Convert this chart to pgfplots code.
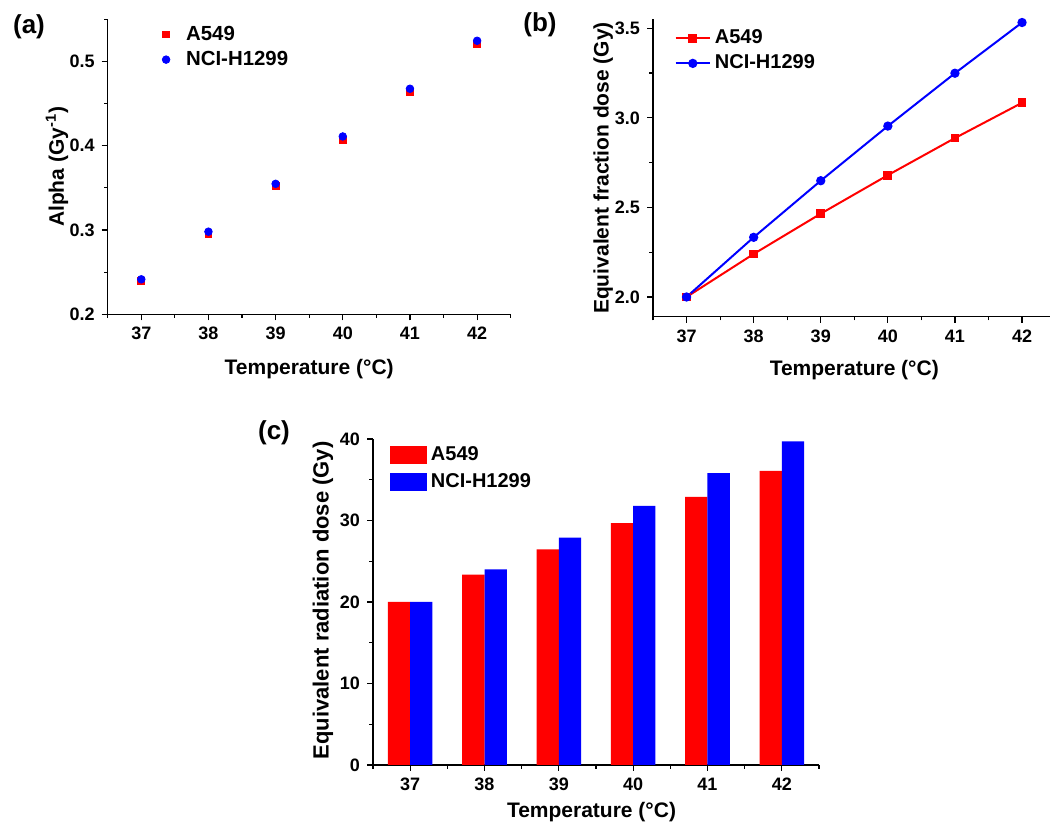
\documentclass[border=0pt]{standalone}
\usepackage{fontspec}
\setmainfont{Liberation Sans}
\usepackage{pgfplots}
\pgfplotsset{compat=1.18}
\pgfplotsset{
  panel/.style={
    scale only axis,
    axis x line=bottom, axis y line=left,
    axis line style={-, line width=0.6pt, black},
    every outer x axis line/.append style={-},
    every outer y axis line/.append style={-},
    tick align=outside,
    major tick length=3pt,
    minor tick length=1.8pt,
    every tick/.style={black, line width=0.6pt},
    tick label style={font=\bfseries\fontsize{9}{10}\selectfont},
    label style={font=\bfseries\fontsize{10.5}{12}\selectfont},
    /pgf/number format/assume math mode=true,
    xmin=36.5, xmax=42.5,
    xtick={37,38,39,40,41,42},
    minor xtick={36.5,37.5,38.5,39.5,40.5,41.5,42.5},
    clip=false,
    legend cell align=left,
    legend style={draw=none, fill=none, inner sep=0pt, anchor=north west,
      font=\bfseries\fontsize{10.2}{11}\selectfont},
  },
}
\begin{document}
\begin{tikzpicture}
\useasboundingbox (0,0) rectangle (525pt,414.5pt);

% ---------- (a)
\begin{axis}[panel, at={(53.85pt,257.35pt)}, anchor=south west,
  width=201.5pt, height=147.5pt,
  ymin=0.2, ymax=0.55, ytick={0.2,0.3,0.4,0.5}, minor ytick={0.25,0.35,0.45,0.55},
  yticklabel style={/pgf/number format/fixed, /pgf/number format/fixed zerofill, /pgf/number format/precision=1},
  xlabel={Temperature (°C)}, ylabel={Alpha (Gy\textsuperscript{-1})},
  xlabel style={at={(axis description cs:0.5,-0.185)}, anchor=center},
  ylabel style={at={(axis description cs:-0.126,0.5)}, anchor=center},
  legend style={at={(axis description cs:0.1345,0.993)}},
  legend image code/.code={\path[draw=none,fill=none] (0pt,0pt) -- (8pt,0pt); \draw[#1] plot coordinates {(0pt,0pt)};},
]
\addplot[only marks, mark=square*, mark size=1.7pt, red] coordinates {
 (37,0.2395) (38,0.2955) (39,0.352) (40,0.407) (41,0.4637) (42,0.5206)};
\addlegendentry{A549}
\addplot[only marks, mark=*, mark size=1.9pt, blue] coordinates {
 (37,0.2415) (38,0.298) (39,0.3548) (40,0.411) (41,0.4676) (42,0.5245)};
\addlegendentry{NCI-H1299}
\end{axis}

% ---------- (b)
\begin{axis}[panel, at={(326.5pt,256.15pt)}, anchor=south west,
  width=201.3pt, height=148.7pt,
  ymin=1.89, ymax=3.55, ytick={2.0,2.5,3.0,3.5}, minor ytick={2.25,2.75,3.25},
  yticklabel style={/pgf/number format/fixed, /pgf/number format/fixed zerofill, /pgf/number format/precision=1},
  xlabel={Temperature (°C)}, ylabel={Equivalent fraction dose (Gy)},
  xlabel style={at={(axis description cs:0.5,-0.18)}, anchor=center},
  ylabel style={at={(axis description cs:-0.124,0.5)}, anchor=center},
  legend style={at={(axis description cs:0.053,0.979)}, font=\bfseries\fontsize{10}{11}\selectfont},
]
\addplot[red, line width=1pt, mark=square*, mark size=1.7pt] coordinates {
 (37,2.0) (38,2.24) (39,2.465) (40,2.68) (41,2.887) (42,3.084)};
\addlegendentry{A549}
\addplot[blue, line width=1pt, mark=*, mark size=1.8pt] coordinates {
 (37,2.0) (38,2.333) (39,2.649) (40,2.954) (41,3.249) (42,3.532)};
\addlegendentry{NCI-H1299}
\end{axis}

% ---------- (c)
\begin{axis}[panel, at={(186.5pt,32pt)}, anchor=south west,
  width=223pt, height=163pt,
  ymin=0, ymax=40, ytick={0,10,20,30,40}, minor ytick={5,15,25,35},
  xlabel={Temperature (°C)}, ylabel={Equivalent radiation dose (Gy)},
  xlabel style={at={(axis description cs:0.49,-0.144)}, anchor=center},
  ylabel style={at={(axis description cs:-0.112,0.505)}, anchor=center, font=\bfseries\fontsize{11}{12}\selectfont},
  legend style={at={(axis description cs:0.038,0.991)}, font=\bfseries\fontsize{10}{11}\selectfont, row sep=1pt},
]
\addplot[ybar, bar width=0.3, bar shift=-0.15, fill=red, draw=none,
  legend image code/.code={\fill[red] (0pt,-4.6pt) rectangle (18.3pt,4.6pt);}] coordinates {
 (37,20.0) (38,23.35) (39,26.45) (40,29.67) (41,32.9) (42,36.1)};
\addlegendentry{A549}
\addplot[ybar, bar width=0.3, bar shift=0.15, fill=blue, draw=none,
  legend image code/.code={\fill[blue] (0pt,-4.6pt) rectangle (18.3pt,4.6pt);}] coordinates {
 (37,20.0) (38,24.0) (39,27.9) (40,31.8) (41,35.8) (42,39.7)};
\addlegendentry{NCI-H1299}
\end{axis}

\node[font=\bfseries\fontsize{13}{15}\selectfont] at (14.5pt,401pt) {(a)};
\node[font=\bfseries\fontsize{13}{15}\selectfont] at (270pt,402pt) {(b)};
\node[font=\bfseries\fontsize{13}{15}\selectfont] at (137pt,198pt) {(c)};
\end{tikzpicture}
\end{document}
